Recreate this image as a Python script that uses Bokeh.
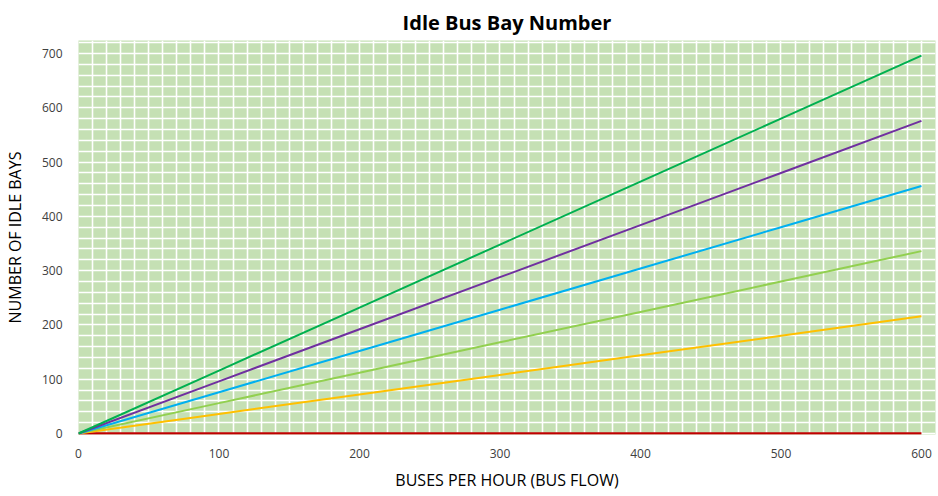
from bokeh.plotting import figure
from bokeh.models import Range1d, SingleIntervalTicker, FixedTicker
from bokeh.embed import file_html
from bokeh.resources import INLINE

# Data
bus_flow = [0, 100, 200, 300, 400, 500, 600]
series_red = [0, 0, 0, 0, 0, 0, 0]
series_yellow = [0, 36, 72, 108, 144, 180, 216]
series_lightgreen = [0, 56, 112, 168, 224, 280, 336]
series_blue = [0, 76, 152, 228, 304, 380, 456]
series_purple = [0, 96, 192, 288, 384, 480, 576]
series_green = [0, 116, 232, 348, 464, 580, 696]
x_ticks = [0, 100, 200, 300, 400, 500, 600]
y_ticks = [0, 100, 200, 300, 400, 500, 600, 700]

p = figure(width=938, height=496, output_backend="svg", toolbar_location=None,
           x_range=Range1d(0, 610), y_range=Range1d(-1.8, 724),
           title="Idle Bus Bay Number", min_border=0)

p.min_border_left = 78
p.min_border_right = 3
p.min_border_top = 40
p.min_border_bottom = 62
p.outline_line_color = None
p.background_fill_color = "#C5E0B4"
p.border_fill_color = "white"

p.title.align = "center"
p.title.text_font = "Open Sans"
p.title.text_font_style = "bold"
p.title.text_font_size = "20px"
p.title.text_color = "#000000"

for ax in (p.xaxis[0], p.yaxis[0]):
    ax.axis_line_color = None
    ax.major_tick_line_color = None
    ax.minor_tick_line_color = None
    ax.major_tick_out = 0
    ax.major_tick_in = 0
    ax.minor_tick_out = 0
    ax.minor_tick_in = 0
    ax.major_label_text_font = "Open Sans"
    ax.major_label_text_font_size = "12px"
    ax.major_label_text_color = "#404040"
    ax.axis_label_text_font = "Open Sans"
    ax.axis_label_text_font_size = "16px"
    ax.axis_label_text_font_style = "normal"
    ax.axis_label_text_color = "#000000"

p.xaxis.ticker = FixedTicker(ticks=x_ticks)
p.yaxis.ticker = FixedTicker(ticks=y_ticks)
p.xaxis.axis_label = "BUSES PER HOUR (BUS FLOW)"
p.yaxis.axis_label = "NUMBER OF IDLE BAYS"
p.xaxis.major_label_standoff = 14
p.yaxis.major_label_standoff = 16
p.yaxis.axis_label_standoff = 13
p.xaxis.axis_label_standoff = 8

p.xgrid.ticker = SingleIntervalTicker(interval=10)
p.ygrid.ticker = SingleIntervalTicker(interval=20)
p.xgrid.grid_line_color = "white"
p.ygrid.grid_line_color = "white"
p.xgrid.grid_line_width = 1.6
p.ygrid.grid_line_width = 1.6

p.line(bus_flow, series_red, line_color="#C00000", line_width=2.5)
p.line(bus_flow, series_yellow, line_color="#FFC000", line_width=2)
p.line(bus_flow, series_lightgreen, line_color="#92D050", line_width=2)
p.line(bus_flow, series_blue, line_color="#00B0F0", line_width=2)
p.line(bus_flow, series_purple, line_color="#7030A0", line_width=2)
p.line(bus_flow, series_green, line_color="#00B050", line_width=2)

open("out.html", "w").write(file_html(p, INLINE))
